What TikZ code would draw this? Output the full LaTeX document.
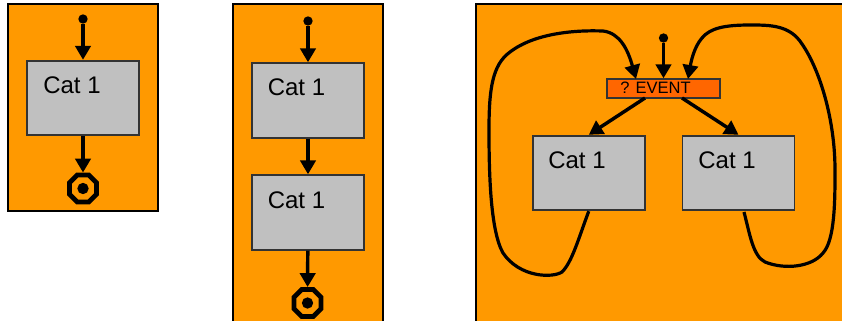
\documentclass[tikz,border=0pt]{standalone}
\usepackage{fontspec}
\setmainfont{Liberation Sans}
\usetikzlibrary{arrows.meta,shapes.geometric}

\begin{document}
\begin{tikzpicture}[x=0.75pt,y=-0.75pt]
    \tikzset{panel/.style = {draw=black,line width=1.5pt,fill=orangebg}}
    \tikzset{cat/.style = {shape=rectangle,draw=black!80,line width=1.3pt,fill=catgray,minimum width=84pt,minimum height=56pt,inner sep=0pt}}
    \tikzset{cattext/.style = {inner sep=0pt,font=\fontsize{18}{20}\selectfont}}
    \tikzset{event/.style = {shape=rectangle,draw=black!80,line width=1.3pt,fill=eventred,minimum width=84.5pt,minimum height=14pt,inner sep=0pt}}
    \tikzset{eventtext/.style = {inner sep=0pt,font=\fontsize{12.4}{14}\selectfont}}
    \tikzset{start/.style = {shape=circle,fill=black,minimum size=7pt,inner sep=0pt}}
    \tikzset{final/.style = {shape=regular polygon,regular polygon sides=8,draw=black,line width=3.6pt,fill=orangebg,minimum size=22pt,inner sep=0pt}}
    \tikzset{finaldot/.style = {shape=circle,fill=black,minimum size=8.5pt,inner sep=0pt}}
    \tikzset{edge/.style = {-{Triangle[length=10.5pt,width=11.5pt]},line width=2.6pt,black}}
    \tikzset{back/.style = {-{Triangle[length=10.5pt,width=11.5pt]},line width=2.4pt,black}}
    \definecolor{orangebg}{HTML}{FF9900}
    \definecolor{catgray}{HTML}{C0C0C0}
    \definecolor{eventred}{HTML}{FF6600}
    \clip (0,0) rectangle (842,321);
    % panels
    \draw[panel] (8,4) rectangle (158,211);
    \draw[panel] (233,4) rectangle (383,340);
    \draw[panel] (476,4) rectangle (860,340);
    % first panel
    \node[start] (s1) at (83,19) {};
    \node[cat] (c1) at (83,98) {};
    \node[cattext] (t1) at (72,85) {Cat 1};
    \node[final] (f1) at (83,188.5) {};
    \node[finaldot] (d1) at (83,188.5) {};
    % second panel
    \node[start] (s2) at (308,21) {};
    \node[cat] (c2) at (308,100.5) {};
    \node[cattext] (t2) at (296.5,87) {Cat 1};
    \node[cat] (c3) at (308,212.5) {};
    \node[cattext] (t3) at (296.5,200) {Cat 1};
    \node[final] (f2) at (307.5,303) {};
    \node[finaldot] (d2) at (307.5,303) {};
    % third panel
    \node[start] (s3) at (663.5,38) {};
    \node[event] (e1) at (663.5,88.5) {};
    \node[eventtext] (t4) at (655.5,87.5) {? EVENT};
    \node[cat] (c4) at (588.75,173) {};
    \node[cattext] (t5) at (577,160) {Cat 1};
    \node[cat] (c5) at (738.5,173) {};
    \node[cattext] (t6) at (727,160) {Cat 1};
    \coordinate (e1a) at (636,79);
    \coordinate (e1b) at (688,79);
    \coordinate (e1c) at (645,98);
    \coordinate (e1d) at (682,98);
    \coordinate (c5a) at (744,212);
    %edges
    \draw[edge] (s1) to (c1);
    \draw[edge] (c1) to (f1);
    \draw[edge] (s2) to (c2);
    \draw[edge] (c2) to (c3);
    \draw[edge] (c3) to (f2);
    \draw[edge] (s3) to (e1);
    \draw[edge] (e1c) to (c4.north);
    \draw[edge] (e1d) to (c5.north);
    \draw[back] (c4.south) .. controls (578,240) and (572,262) .. (562,272)
        .. controls (553,278) and (520,278) .. (503,253)
        .. controls (490,230) and (489,170) .. (489,130)
        .. controls (489,90) and (492,65) .. (510,52)
        .. controls (535,33) and (575,30) .. (603,31)
        .. controls (620,33) and (628,50) .. (e1a);
    \draw[back] (c5a) .. controls (750,235) and (753,256) .. (765,262)
        .. controls (785,270) and (812,267) .. (823,253)
        .. controls (835,240) and (835,200) .. (835,170)
        .. controls (835,120) and (820,70) .. (802,44)
        .. controls (790,25) and (770,25) .. (750,25)
        .. controls (725,25) and (710,28) .. (702,38)
        .. controls (694,47) and (691,62) .. (e1b);
\end{tikzpicture}
\end{document}
